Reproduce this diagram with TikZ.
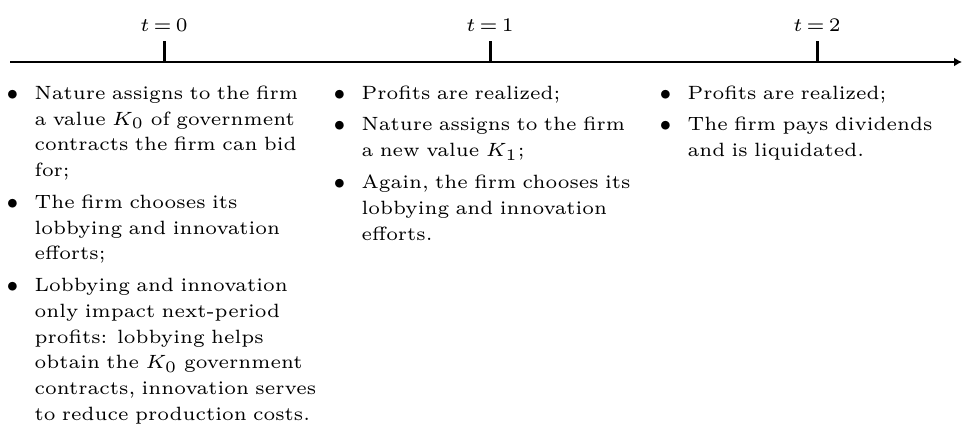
\documentclass[tikz,border=0pt]{standalone}
\usepackage{tikz}
\usetikzlibrary{arrows.meta}
\usepackage{enumitem}
\setlist[itemize]{label=$\bullet$, leftmargin=8pt, labelsep=5pt, itemsep=1.85pt, parsep=0pt, topsep=0pt, partopsep=0pt}

\begin{document}
\begin{tikzpicture}[x=1pt, y=1pt, > = {Latex[length=8pt, width=9pt]},
    axis/.style = {line width=2.7pt, ->},
    tick/.style = {line width=3pt},
    period/.style = {inner sep=0pt, scale=3.2, transform shape, font=\fontsize{6}{8.06}\selectfont},
    events/.style = {period, anchor=north west, text width=110pt}]

    \useasboundingbox (0,0) rectangle (962,-431);

    % time axis
    \coordinate (start) at (10,-62);
    \coordinate (end) at (962,-62);
    \draw[axis] (start) -- (end);

    % periods
    \coordinate (p0) at (164,-62);
    \coordinate (p1) at (490,-62);
    \coordinate (p2) at (817,-62);
    \draw[tick] (p0) -- ++(0,21) coordinate (p0top);
    \draw[tick] (p1) -- ++(0,21) coordinate (p1top);
    \draw[tick] (p2) -- ++(0,21) coordinate (p2top);
    \node[period, anchor=south] (t0) at ([yshift=8.5pt]p0top) {$t\,{=}\,0$};
    \node[period, anchor=south] (t1) at ([yshift=8.5pt]p1top) {$t\,{=}\,1$};
    \node[period, anchor=south] (t2) at ([yshift=8.5pt]p2top) {$t\,{=}\,2$};

    % what happens in each period
    \coordinate (e0) at (8.4,-72.8);
    \coordinate (e1) at (335.4,-72.8);
    \coordinate (e2) at (661.4,-72.8);
    \node[events] (ev0) at (e0) {%
      \begin{itemize}
        \item Nature assigns to the firm\\ a value $K_0$ of government\\ contracts the firm can bid\\ for;
        \item The firm chooses its\\ lobbying and innovation\\ efforts;
        \item Lobbying and innovation\\ only impact next-period\\ profits: lobbying helps\\ obtain the $K_0$ government\\ contracts, innovation serves\\ to reduce production costs.
      \end{itemize}};
    \node[events] (ev1) at (e1) {%
      \begin{itemize}
        \item Profits are realized;
        \item Nature assigns to the firm\\ a new value $K_1$;
        \item Again, the firm chooses its\\ lobbying and innovation\\ efforts.
      \end{itemize}};
    \node[events] (ev2) at (e2) {%
      \begin{itemize}
        \item Profits are realized;
        \item The firm pays dividends\\ and is liquidated.
      \end{itemize}};

\end{tikzpicture}
\end{document}
